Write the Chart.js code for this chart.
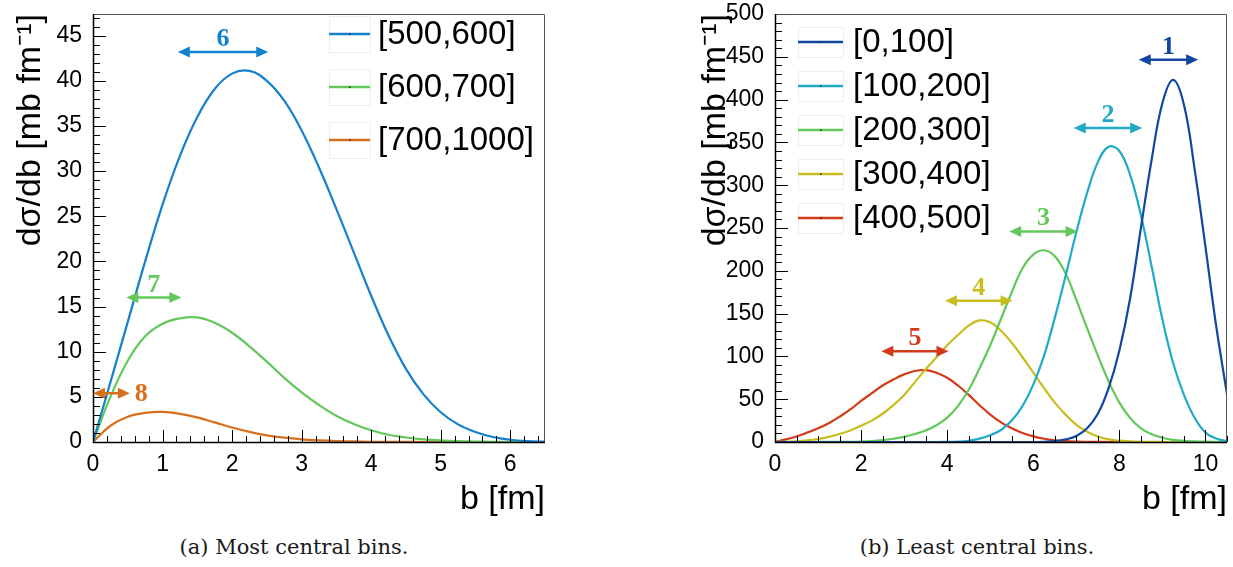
<!DOCTYPE html>
<html>
<head>
<meta charset="utf-8">
<script src="https://cdn.jsdelivr.net/npm/chart.js@4.4.1/dist/chart.umd.min.js"></script>
<style>
  body { margin: 0; background: #fff; width: 1233px; height: 567px; overflow: hidden; position: relative; }
  .panel { position: absolute; top: 0; height: 520px; }
  #left { left: 0; width: 616px; }
  #right { left: 616px; width: 617px; }
  .caption { position: absolute; top: 535px; font-family: "DejaVu Serif", serif; font-size: 21px; line-height: 25px;
             color: #1a1a1a; transform: translateX(-50%); white-space: nowrap; }
</style>
</head>
<body>
<div class="panel" id="left"><canvas id="chartA" width="616" height="520"></canvas></div>
<div class="panel" id="right"><canvas id="chartB" width="617" height="520"></canvas></div>
<div class="caption" style="left:294px">(a) Most central bins.</div>
<div class="caption" style="left:977px">(b) Least central bins.</div>
<script>
// (a) most central bins, b in fm
const bCentral = [0, 0.25, 0.5, 0.75, 1, 1.25, 1.5, 1.75, 2, 2.25, 2.5, 2.75, 3, 3.25, 3.5, 3.75,
                  4, 4.25, 4.5, 4.75, 5, 5.25, 5.5, 5.75, 6, 6.25, 6.5];
const sig500_600 = [0, 6.6, 13.3, 20.0, 26.3, 31.7, 36.0, 39.1, 40.8, 41.1, 40.0, 37.8, 34.5, 30.4, 25.8, 21.0,
                    16.2, 11.8, 8.1, 5.3, 3.3, 1.95, 1.1, 0.55, 0.25, 0.1, 0.04];
const sig600_700 = [0, 5.0, 9.0, 11.7, 13.1, 13.7, 13.8, 13.2, 12.1, 10.6, 8.9, 7.1, 5.5, 4.1, 2.9, 2.0,
                    1.3, 0.8, 0.5, 0.3, 0.17, 0.09, 0.05, 0.02, 0.01, 0, 0];
const sig700_1000 = [0, 1.8, 2.8, 3.22, 3.33, 3.12, 2.72, 2.17, 1.6, 1.12, 0.74, 0.48, 0.3, 0.19, 0.11, 0.06,
                     0.03, 0.02, 0.01, 0, 0, 0, 0, 0, 0, 0, 0];
const centralLabels = ['[500,600]', '[600,700]', '[700,1000]'];
const centralXTicks = [0, 1, 2, 3, 4, 5, 6];
const centralYTicks = [0, 5, 10, 15, 20, 25, 30, 35, 40, 45];
const centralArrowText = ['6', '7', '8'];
const centralArrowFrom = [1.22, 0.48, 0];
const centralArrowTo = [2.52, 1.27, 0.53];
const centralArrowY = [43.2, 16.0, 5.4];

// (b) least central bins
const bPeripheral = [0, 0.25, 0.5, 0.75, 1, 1.25, 1.5, 1.75, 2, 2.25, 2.5, 2.75, 3, 3.25, 3.5, 3.75,
                     4, 4.25, 4.5, 4.75, 5, 5.25, 5.5, 5.75, 6, 6.25, 6.5, 6.75, 7, 7.25, 7.5, 7.75,
                     8, 8.25, 8.5, 8.75, 9, 9.25, 9.5, 9.75, 10, 10.25, 10.5];
const sig0_100 = [0, 0, 0, 0, 0, 0, 0, 0, 0, 0, 0, 0, 0, 0, 0, 0,
                  0, 0, 0, 0, 0, 0, 0, 0, 0, 0.3, 1, 3, 7, 16, 33, 63,
                  107, 168, 250, 330, 396, 423, 394, 318, 228, 135, 56];
const sig100_200 = [0, 0, 0, 0, 0, 0, 0, 0, 0, 0, 0, 0, 0, 0, 0, 0,
                    0.2, 0.5, 1.5, 4, 8, 14, 25, 42, 67, 101, 145, 194, 245, 291, 327, 345,
                    340, 312, 265, 205, 143, 92, 55, 28, 11, 4, 1];
const sig200_300 = [0, 0, 0, 0, 0.05, 0.1, 0.2, 0.3, 0.6, 1.2, 2.2, 3.8, 6, 9.3, 13.5, 19.5,
                    28.5, 42, 61, 86, 113, 144, 175, 203, 219, 224, 217, 197, 166, 133, 101, 71,
                    46, 28, 16, 9, 5, 2.5, 1.4, 0.8, 0.4, 0.2, 0.1];
const sig300_400 = [0, 0.2, 0.8, 1.8, 3.5, 6, 9.3, 13.5, 19, 25, 33, 43, 55, 70, 85, 99,
                    113, 125, 136, 142, 140, 130, 116, 99, 81, 63, 46, 32, 20, 12, 6.5, 3,
                    1.5, 0.7, 0.3, 0.15, 0.05, 0, 0, 0, 0, 0, 0];
const sig400_500 = [0, 3, 6.5, 11, 16, 22, 29.5, 38, 48, 57, 66, 73, 79, 83, 84, 81,
                    75, 66, 55, 43, 32, 23, 16, 10.5, 6.5, 3.8, 2, 1, 0.5, 0.25, 0.1, 0,
                    0, 0, 0, 0, 0, 0, 0, 0, 0, 0, 0];
const periphLabels = ['[0,100]', '[100,200]', '[200,300]', '[300,400]', '[400,500]'];
const periphXTicks = [0, 2, 4, 6, 8, 10];
const periphYTicks = [0, 50, 100, 150, 200, 250, 300, 350, 400, 450, 500];
const periphArrowText = ['1', '2', '3', '4', '5'];
const periphArrowFrom = [8.45, 6.94, 5.44, 3.95, 2.47];
const periphArrowTo = [9.83, 8.53, 7.03, 5.52, 4.03];
const periphArrowY = [446.5, 367, 246, 165, 106];

const BLUE = '#1580cc', GREEN = '#62c85a', ORANGE = '#d86f1c';
const NAVY = '#1048a0', CYAN = '#21aac8', YELLOW = '#c9bd1d', RED = '#d33a17';

const SANS = '"Liberation Sans", Arial, sans-serif';
const SERIF = '"Liberation Serif", "Times New Roman", serif';

// ROOT style frame with ticks pointing into the plot
const frameTicks = {
    id: 'frameTicks',
    afterDatasetsDraw(chart, args, opts) {
        const { ctx, chartArea: a, scales: { x, y } } = chart;
        ctx.save();
        ctx.beginPath();
        ctx.strokeStyle = '#000';
        ctx.lineWidth = 1;
        const nx = Math.floor((x.max - x.min) / opts.xMinor + 1e-6);
        for (let i = 0; i <= nx; i++) {
            const v = x.min + i * opts.xMinor;
            const major = Math.abs(v / opts.xMajor - Math.round(v / opts.xMajor)) < 1e-6;
            const px = Math.round(x.getPixelForValue(v)) + 0.5;
            ctx.moveTo(px, a.bottom);
            ctx.lineTo(px, a.bottom - (major ? 12 : 6));
        }
        const ny = Math.floor((y.max - y.min) / opts.yMinor + 1e-6);
        for (let i = 0; i <= ny; i++) {
            const v = y.min + i * opts.yMinor;
            const major = Math.abs(v / opts.yMajor - Math.round(v / opts.yMajor)) < 1e-6;
            const py = Math.round(y.getPixelForValue(v)) + 0.5;
            ctx.moveTo(a.left, py);
            ctx.lineTo(a.left + (major ? 13 : 7), py);
        }
        ctx.stroke();
        ctx.beginPath();
        ctx.strokeStyle = '#555';
        ctx.moveTo(a.left, a.top + 0.5);
        ctx.lineTo(a.right - 0.5, a.top + 0.5);
        ctx.lineTo(a.right - 0.5, a.bottom);
        ctx.stroke();
        ctx.beginPath();
        ctx.strokeStyle = '#000';
        ctx.lineWidth = 1.5;
        ctx.moveTo(a.left + 0.5, a.top);
        ctx.lineTo(a.left + 0.5, a.bottom + 0.5);
        ctx.lineTo(a.right, a.bottom + 0.5);
        ctx.stroke();
        ctx.restore();
    }
};

// double headed arrows with bin numbers
const rangeArrows = {
    id: 'rangeArrows',
    afterDatasetsDraw(chart, args, opts) {
        const { ctx, scales: { x, y } } = chart;
        ctx.save();
        opts.text.forEach((t, i) => {
            const x1 = x.getPixelForValue(opts.from[i]);
            const x2 = x.getPixelForValue(opts.to[i]);
            const py = y.getPixelForValue(opts.y[i]);
            const c = opts.colors[i];
            const hl = 12, hw = 5.5;
            ctx.strokeStyle = c;
            ctx.fillStyle = c;
            ctx.lineWidth = 2.5;
            ctx.beginPath();
            ctx.moveTo(x1 + hl - 2, py);
            ctx.lineTo(x2 - hl + 2, py);
            ctx.stroke();
            ctx.beginPath();
            ctx.moveTo(x1, py); ctx.lineTo(x1 + hl, py - hw); ctx.lineTo(x1 + hl, py + hw); ctx.closePath();
            ctx.moveTo(x2, py); ctx.lineTo(x2 - hl, py - hw); ctx.lineTo(x2 - hl, py + hw); ctx.closePath();
            ctx.fill();
            ctx.font = 'bold 26px ' + SERIF;
            if (opts.side && opts.side[i] === 'right') {
                ctx.textAlign = 'left';
                ctx.textBaseline = 'middle';
                ctx.fillText(t, x2 + 5, py + 1);
            } else {
                ctx.textAlign = 'center';
                ctx.textBaseline = 'alphabetic';
                ctx.fillText(t, (x1 + x2) / 2, py - 6);
            }
        });
        ctx.restore();
    }
};

// legend boxes drawn inside the frame
const boxLegend = {
    id: 'boxLegend',
    afterDraw(chart, args, opts) {
        const { ctx } = chart;
        ctx.save();
        chart.data.datasets.forEach((ds, i) => {
            const cy = opts.y0 + i * opts.dy;
            ctx.strokeStyle = '#eeeeee';
            ctx.lineWidth = 1;
            ctx.strokeRect(opts.x0 + 0.5, cy - opts.halfH + 0.5, opts.w, opts.halfH * 2);
            ctx.strokeStyle = ds.borderColor;
            ctx.lineWidth = 2.5;
            ctx.beginPath();
            ctx.moveTo(opts.x0, cy);
            ctx.lineTo(opts.x0 + opts.w, cy);
            ctx.stroke();
            ctx.fillStyle = '#222';
            ctx.fillRect(opts.x0 + opts.w / 2 - 0.5, cy - 0.5, 1.5, 1.5);
            ctx.fillStyle = '#000';
            ctx.font = opts.fontSize + 'px ' + SANS;
            ctx.textAlign = 'left';
            ctx.textBaseline = 'middle';
            ctx.fillText(ds.label, opts.textX, cy + 1);
        });
        ctx.restore();
    }
};

function toPoints(bs, vals) {
    return bs.map((b, i) => ({ x: b, y: vals[i] }));
}

function makePanel(canvasId, p) {
    return new Chart(document.getElementById(canvasId), {
        type: 'line',
        data: {
            datasets: p.series.map((s, i) => ({
                label: p.labels[i],
                data: toPoints(p.b, s),
                borderColor: p.colors[i],
                borderWidth: 2.2,
                pointRadius: 0,
                fill: false,
                tension: 0.4
            }))
        },
        options: {
            responsive: false,
            animation: false,
            events: [],
            layout: { padding: p.padding },
            scales: {
                x: {
                    type: 'linear',
                    min: 0,
                    max: p.xMax,
                    grid: { display: false },
                    border: { display: false },
                    afterBuildTicks: s => { s.ticks = p.xTicks.map(v => ({ value: v })); },
                    afterFit: s => { s.height = 78; },
                    ticks: { color: '#000', padding: 3, maxRotation: 0, font: { family: SANS, size: 23, lineHeight: 1 } },
                    title: { display: true, text: 'b [fm]', align: 'end', color: '#000',
                             padding: { top: 0, bottom: 0 }, font: { family: SANS, size: 34 } }
                },
                y: {
                    min: 0,
                    max: p.yMax,
                    grid: { display: false },
                    border: { display: false },
                    afterBuildTicks: s => { s.ticks = p.yTicks.map(v => ({ value: v })); },
                    afterFit: s => { s.width = p.yWidth; },
                    ticks: { color: '#000', padding: 3, font: { family: SANS, size: 23, lineHeight: 0.96 } },
                    title: { display: true, text: 'dσ/db [mb fm⁻¹]', align: 'end', color: '#000',
                             padding: { top: 0, bottom: 0 }, font: { family: SANS, size: 34 } }
                }
            },
            plugins: {
                legend: { display: false },
                tooltip: { enabled: false },
                frameTicks: p.ticks,
                rangeArrows: p.arrows,
                boxLegend: p.legend
            }
        },
        plugins: [frameTicks, rangeArrows, boxLegend]
    });
}

makePanel('chartA', {
    b: bCentral,
    series: [sig500_600, sig600_700, sig700_1000],
    labels: centralLabels,
    colors: [BLUE, GREEN, ORANGE],
    xMax: 6.5, yMax: 47.4,
    xTicks: centralXTicks, yTicks: centralYTicks,
    padding: { left: 10, top: 11, right: 71, bottom: 0 },
    yWidth: 83,
    ticks: { xMajor: 1, xMinor: 0.2, yMajor: 5, yMinor: 1 },
    arrows: { text: centralArrowText, from: centralArrowFrom, to: centralArrowTo, y: centralArrowY,
              colors: [BLUE, GREEN, ORANGE], side: ['top', 'top', 'right'] },
    legend: { x0: 329, w: 41, y0: 34, dy: 53, halfH: 18, textX: 378, fontSize: 33 }
});

makePanel('chartB', {
    b: bPeripheral,
    series: [sig0_100, sig100_200, sig200_300, sig300_400, sig400_500],
    labels: periphLabels,
    colors: [NAVY, CYAN, GREEN, YELLOW, RED],
    xMax: 10.5, yMax: 500,
    xTicks: periphXTicks, yTicks: periphYTicks,
    padding: { left: 79, top: 11, right: 6, bottom: 0 },
    yWidth: 80,
    ticks: { xMajor: 2, xMinor: 0.5, yMajor: 50, yMinor: 10 },
    arrows: { text: periphArrowText, from: periphArrowFrom, to: periphArrowTo, y: periphArrowY,
              colors: [NAVY, CYAN, GREEN, YELLOW, RED] },
    legend: { x0: 182, w: 45, y0: 42, dy: 44, halfH: 15, textX: 237, fontSize: 33 }
});
</script>
</body>
</html>
